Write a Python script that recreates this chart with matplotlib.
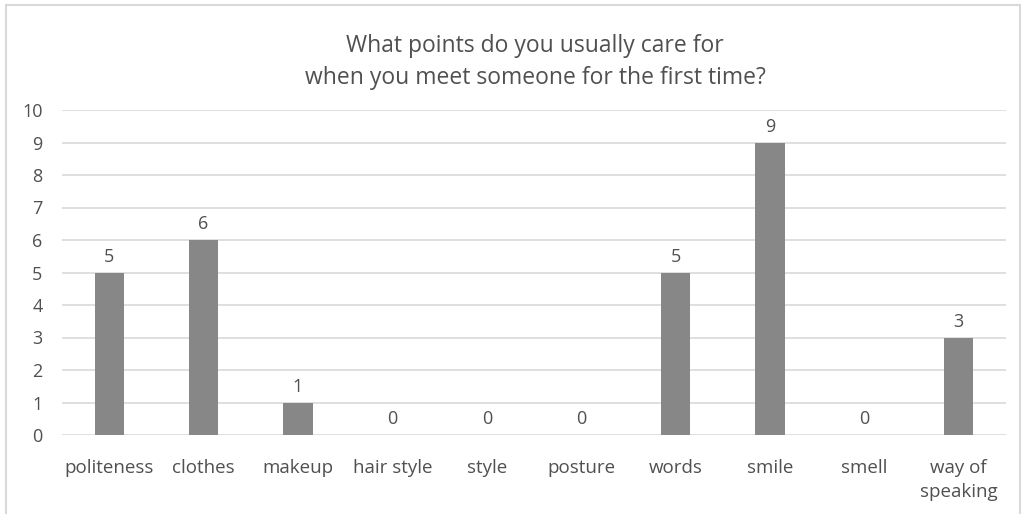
import matplotlib.pyplot as plt
from matplotlib.patches import Rectangle

plt.rcParams['font.family'] = ['Open Sans', 'DejaVu Sans']

categories = ['politeness', 'clothes', 'makeup', 'hair style', 'style',
              'posture', 'words', 'smile', 'smell', 'way of\nspeaking']
counts = [5, 6, 1, 0, 0, 0, 5, 9, 0, 3]
yticks = list(range(0, 11))
title = 'What points do you usually care for\nwhen you meet someone for the first time?'

text_color = '#505050'
bar_color = '#878787'
grid_color = '#d9d9d9'

fig = plt.figure(figsize=(10.26, 5.14), dpi=100)
ax = fig.add_axes([62 / 1026, 1 - 435 / 514, 944 / 1026, 325 / 514])

x = range(len(categories))
bars = ax.bar(x, counts, width=0.31, color=bar_color, zorder=3)

# value labels above the bars
for xi, v in zip(x, counts):
    ax.annotate(str(v), (xi, v), xytext=(0, 5), textcoords='offset points',
                ha='center', va='bottom', fontsize=13, color=text_color)

ax.set_xlim(-0.5, len(categories) - 0.5)
ax.set_ylim(0, 10)
ax.set_yticks(yticks)
ax.set_xticks(list(x))
ax.set_xticklabels(categories, fontsize=13.5, color=text_color, linespacing=1.45)
ax.tick_params(axis='y', length=0, pad=14, labelsize=13, labelcolor=text_color)
ax.tick_params(axis='x', length=0, pad=17)
ax.yaxis.grid(True, color=grid_color, linewidth=1.2, zorder=0)
for s in ax.spines.values():
    s.set_visible(False)

fig.text(535 / 1026, 1 - 62 / 514, title, ha='center', va='center',
         fontsize=16.5, color=text_color, linespacing=1.45)

# outer frame of the chart
fig.patches.append(Rectangle((6 / 1026, -0.1), 1014 / 1026, 1.1 - 5 / 514,
                             transform=fig.transFigure, fill=False,
                             edgecolor='#d9d9d9', linewidth=1.5))

fig.savefig('out.png', dpi=100)
